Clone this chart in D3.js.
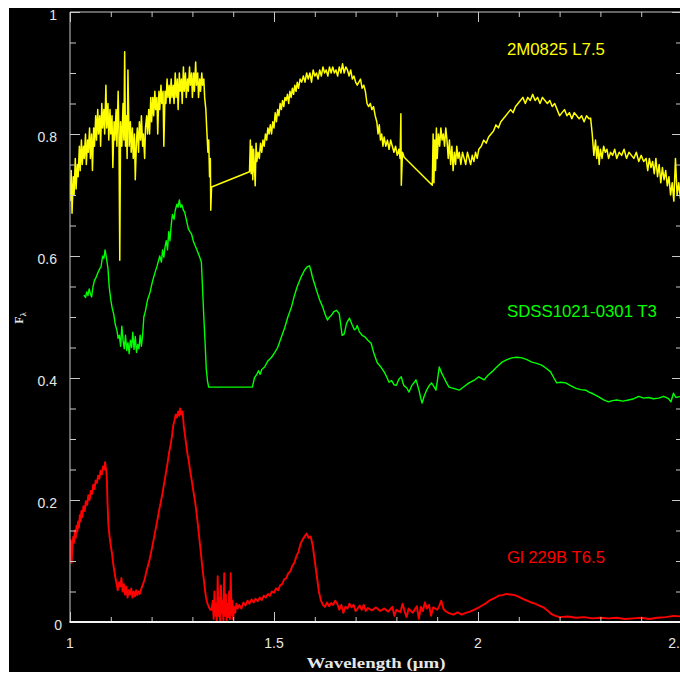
<!DOCTYPE html>
<html>
<head>
<meta charset="utf-8">
<script src="https://cdn.jsdelivr.net/npm/d3@7"></script>
<style>
  html, body { margin: 0; padding: 0; background: #fff; }
  svg { display: block; }
</style>
</head>
<body>
<svg id="chart" width="680" height="675"></svg>
<script>
// ---------------- DATA ----------------
const seriesNames = ["2M0825 L7.5", "SDSS1021-0301 T3", "Gl 229B T6.5"];
const xTickLabels = ["1", "1.5", "2", "2.5"];
const yTickLabels = ["0", "0.2", "0.4", "0.6", "0.8", "1"];
const xAxisTitle = "Wavelength (\u03bcm)";

// [wavelength (micron), F_lambda]
const spec2M0825 = [
[1.000,0.69],[1.003,0.74],[1.005,0.67],[1.008,0.73],[1.010,0.70],[1.013,0.76],[1.015,0.71],[1.018,0.75],
[1.020,0.73],[1.023,0.78],[1.025,0.74],[1.028,0.79],[1.030,0.75],[1.033,0.78],[1.035,0.76],[1.038,0.80],
[1.040,0.75],[1.043,0.79],[1.045,0.77],[1.048,0.81],[1.050,0.76],[1.053,0.80],[1.055,0.74],[1.058,0.81],
[1.060,0.78],[1.063,0.83],[1.065,0.79],[1.068,0.84],[1.070,0.80],[1.073,0.83],[1.075,0.78],[1.078,0.85],
[1.080,0.81],[1.083,0.84],[1.085,0.80],[1.088,0.88],[1.090,0.81],[1.093,0.85],[1.095,0.79],[1.098,0.84],
[1.100,0.80],[1.103,0.83],[1.105,0.745],[1.108,0.82],[1.110,0.79],[1.113,0.84],[1.115,0.78],[1.118,0.87],
[1.120,0.80],[1.122,0.593],[1.124,0.82],[1.127,0.78],[1.130,0.85],[1.132,0.79],[1.134,0.935],[1.136,0.78],
[1.138,0.83],[1.140,0.76],[1.142,0.905],[1.145,0.78],[1.148,0.82],[1.150,0.77],[1.153,0.81],[1.155,0.76],
[1.158,0.80],[1.160,0.725],[1.163,0.79],[1.165,0.81],[1.168,0.77],[1.170,0.82],[1.173,0.79],[1.175,0.83],
[1.178,0.78],[1.180,0.80],[1.183,0.76],[1.185,0.81],[1.188,0.83],[1.190,0.80],[1.193,0.84],[1.195,0.80],
[1.198,0.86],[1.200,0.82],[1.203,0.86],[1.205,0.83],[1.208,0.87],[1.210,0.84],[1.213,0.86],[1.215,0.80],
[1.218,0.87],[1.220,0.84],[1.223,0.88],[1.225,0.85],[1.228,0.87],[1.230,0.78],[1.233,0.87],[1.235,0.85],
[1.238,0.89],[1.240,0.86],[1.243,0.88],[1.245,0.85],[1.248,0.89],[1.250,0.86],[1.253,0.88],[1.255,0.85],
[1.258,0.90],[1.260,0.86],[1.263,0.89],[1.265,0.84],[1.268,0.90],[1.270,0.87],[1.273,0.89],[1.275,0.85],
[1.278,0.91],[1.280,0.87],[1.283,0.90],[1.285,0.86],[1.288,0.89],[1.290,0.87],[1.293,0.91],[1.295,0.88],
[1.298,0.90],[1.300,0.86],[1.303,0.90],[1.305,0.87],[1.308,0.918],[1.310,0.88],[1.313,0.90],[1.315,0.86],
[1.318,0.89],[1.320,0.87],[1.323,0.90],[1.325,0.88],[1.328,0.89],[1.330,0.86],[1.333,0.84],[1.335,0.81],
[1.338,0.77],[1.340,0.79],[1.342,0.73],[1.344,0.76],[1.345,0.675],[1.347,0.713],
[1.440,0.738],[1.442,0.79],[1.444,0.735],[1.446,0.78],[1.448,0.725],[1.450,0.775],[1.452,0.745],[1.454,0.715],
[1.456,0.785],[1.458,0.755],[1.461,0.77],[1.464,0.76],[1.467,0.785],[1.470,0.77],[1.473,0.79],[1.476,0.78],
[1.479,0.80],[1.482,0.79],[1.485,0.81],[1.488,0.80],[1.491,0.815],[1.494,0.80],[1.497,0.82],[1.500,0.81],
[1.503,0.835],[1.506,0.82],[1.509,0.84],[1.512,0.83],[1.515,0.85],[1.518,0.84],[1.521,0.855],[1.524,0.845],
[1.527,0.86],[1.530,0.855],[1.533,0.865],[1.536,0.85],[1.539,0.87],[1.542,0.86],[1.545,0.875],[1.548,0.865],
[1.551,0.88],[1.554,0.87],[1.557,0.885],[1.560,0.875],[1.564,0.89],[1.568,0.885],[1.572,0.895],[1.576,0.885],
[1.580,0.90],[1.584,0.89],[1.588,0.90],[1.592,0.885],[1.596,0.905],[1.600,0.895],[1.604,0.90],[1.608,0.89],
[1.612,0.905],[1.616,0.895],[1.620,0.91],[1.624,0.90],[1.628,0.905],[1.632,0.895],[1.636,0.91],[1.640,0.90],
[1.644,0.91],[1.648,0.90],[1.652,0.905],[1.656,0.895],[1.660,0.91],[1.664,0.90],[1.668,0.915],[1.672,0.90],
[1.676,0.91],[1.680,0.905],[1.684,0.895],[1.688,0.905],[1.692,0.89],[1.696,0.895],[1.700,0.885],[1.704,0.88],
[1.708,0.885],[1.712,0.89],[1.716,0.875],[1.720,0.88],[1.724,0.87],[1.728,0.85],[1.732,0.845],[1.736,0.85],
[1.740,0.84],[1.744,0.845],[1.748,0.83],[1.752,0.82],[1.755,0.80],[1.758,0.815],[1.761,0.79],[1.764,0.80],
[1.767,0.78],[1.770,0.795],[1.774,0.78],[1.778,0.79],[1.782,0.775],[1.786,0.79],[1.790,0.78],[1.794,0.77],
[1.798,0.78],[1.802,0.765],[1.806,0.775],[1.809,0.76],[1.811,0.833],[1.812,0.716],[1.815,0.77],[1.819,0.762],
[1.888,0.716],[1.890,0.80],[1.892,0.72],[1.894,0.79],[1.896,0.74],[1.898,0.81],[1.900,0.76],[1.903,0.80],
[1.906,0.78],[1.909,0.81],[1.912,0.79],[1.915,0.80],[1.918,0.78],[1.921,0.81],[1.924,0.79],[1.927,0.76],
[1.930,0.79],[1.933,0.75],[1.936,0.78],[1.939,0.74],[1.942,0.77],[1.945,0.75],[1.948,0.78],[1.951,0.76],
[1.954,0.77],[1.958,0.75],[1.962,0.77],[1.966,0.76],[1.970,0.75],[1.974,0.77],[1.978,0.76],[1.982,0.75],
[1.986,0.765],[1.990,0.755],[1.994,0.77],[1.998,0.76],[2.002,0.775],[2.008,0.78],[2.014,0.79],[2.020,0.785],
[2.026,0.795],[2.032,0.80],[2.038,0.805],[2.044,0.815],[2.050,0.81],[2.056,0.82],[2.062,0.825],[2.068,0.83],
[2.074,0.835],[2.080,0.84],[2.086,0.835],[2.092,0.845],[2.098,0.85],[2.104,0.855],[2.110,0.86],[2.116,0.85],
[2.122,0.86],[2.128,0.855],[2.134,0.865],[2.140,0.855],[2.146,0.86],[2.152,0.85],[2.158,0.86],[2.164,0.855],
[2.170,0.85],[2.176,0.855],[2.182,0.845],[2.188,0.85],[2.194,0.84],[2.200,0.83],[2.206,0.835],[2.212,0.84],
[2.218,0.83],[2.224,0.835],[2.230,0.825],[2.236,0.835],[2.242,0.83],[2.248,0.825],[2.254,0.83],[2.260,0.82],
[2.266,0.83],[2.272,0.825],[2.276,0.826],[2.280,0.80],[2.284,0.765],[2.288,0.79],[2.291,0.76],[2.294,0.78],
[2.297,0.75],[2.300,0.775],[2.304,0.76],[2.308,0.78],[2.312,0.77],[2.316,0.775],[2.320,0.76],[2.325,0.77],
[2.330,0.765],[2.335,0.775],[2.340,0.76],[2.346,0.77],[2.352,0.765],[2.358,0.775],[2.364,0.76],[2.370,0.77],
[2.376,0.765],[2.382,0.76],[2.388,0.77],[2.394,0.755],[2.400,0.765],[2.406,0.755],[2.412,0.76],[2.416,0.74],
[2.420,0.76],[2.424,0.745],[2.428,0.755],[2.432,0.735],[2.436,0.76],[2.440,0.73],[2.444,0.75],[2.448,0.72],
[2.452,0.745],[2.456,0.725],[2.460,0.74],[2.464,0.715],[2.468,0.73],[2.472,0.70],[2.476,0.72],[2.480,0.69],
[2.484,0.76],[2.488,0.70],[2.492,0.72],[2.496,0.695],[2.500,0.71]
];

const specSDSS1021 = [
[1.034,0.536],[1.038,0.532],[1.041,0.541],[1.044,0.535],[1.047,0.546],[1.050,0.538],[1.053,0.533],[1.056,0.548],
[1.060,0.560],[1.064,0.565],[1.068,0.572],[1.072,0.578],[1.076,0.582],[1.080,0.600],[1.083,0.596],[1.086,0.610],
[1.089,0.598],[1.093,0.580],[1.096,0.550],[1.100,0.528],[1.103,0.516],[1.107,0.505],[1.111,0.488],[1.115,0.478],
[1.118,0.465],[1.121,0.470],[1.124,0.452],[1.127,0.485],[1.130,0.462],[1.133,0.448],[1.136,0.470],[1.139,0.445],
[1.142,0.458],[1.145,0.440],[1.148,0.462],[1.151,0.450],[1.154,0.475],[1.157,0.447],[1.160,0.468],[1.163,0.442],
[1.166,0.455],[1.169,0.448],[1.172,0.470],[1.175,0.452],[1.178,0.470],[1.181,0.500],[1.185,0.510],[1.190,0.528],
[1.196,0.540],[1.202,0.558],[1.208,0.572],[1.214,0.585],[1.220,0.600],[1.224,0.590],[1.227,0.610],[1.230,0.598],
[1.233,0.615],[1.236,0.625],[1.239,0.610],[1.242,0.640],[1.245,0.625],[1.248,0.650],[1.251,0.668],[1.255,0.660],
[1.258,0.675],[1.262,0.685],[1.265,0.680],[1.268,0.692],[1.271,0.680],[1.274,0.684],[1.278,0.675],[1.281,0.672],
[1.285,0.660],[1.290,0.645],[1.294,0.640],[1.298,0.636],[1.302,0.625],[1.306,0.618],[1.310,0.612],[1.314,0.605],
[1.318,0.598],[1.322,0.590],[1.325,0.545],[1.328,0.500],[1.331,0.460],[1.334,0.415],[1.337,0.395],[1.340,0.385],
[1.447,0.385],[1.452,0.400],[1.457,0.405],[1.462,0.412],[1.466,0.406],[1.470,0.414],[1.477,0.418],[1.485,0.428],
[1.494,0.434],[1.502,0.442],[1.509,0.450],[1.517,0.465],[1.526,0.482],[1.534,0.500],[1.543,0.517],[1.550,0.535],
[1.557,0.550],[1.566,0.565],[1.575,0.577],[1.581,0.582],[1.587,0.584],[1.591,0.575],[1.594,0.566],[1.600,0.553],
[1.606,0.540],[1.612,0.528],[1.619,0.517],[1.625,0.505],[1.631,0.495],[1.636,0.500],[1.641,0.503],[1.647,0.509],
[1.653,0.511],[1.657,0.508],[1.660,0.505],[1.664,0.485],[1.667,0.470],[1.672,0.472],[1.678,0.490],[1.685,0.498],
[1.691,0.488],[1.697,0.479],[1.701,0.481],[1.704,0.486],[1.709,0.476],[1.716,0.470],[1.722,0.468],[1.730,0.462],
[1.738,0.457],[1.745,0.440],[1.753,0.425],[1.762,0.418],[1.770,0.410],[1.776,0.402],[1.782,0.393],[1.788,0.396],
[1.794,0.389],[1.800,0.388],[1.806,0.398],[1.812,0.402],[1.816,0.392],[1.819,0.387],[1.825,0.384],[1.831,0.377],
[1.838,0.388],[1.844,0.393],[1.848,0.397],[1.852,0.388],[1.856,0.378],[1.860,0.366],[1.863,0.359],[1.868,0.370],
[1.874,0.380],[1.880,0.387],[1.886,0.392],[1.892,0.386],[1.897,0.380],[1.901,0.398],[1.905,0.418],[1.911,0.408],
[1.917,0.400],[1.923,0.392],[1.929,0.385],[1.940,0.383],[1.954,0.380],[1.966,0.386],[1.978,0.392],[1.990,0.396],
[2.002,0.402],[2.015,0.397],[2.025,0.405],[2.034,0.410],[2.046,0.418],[2.059,0.426],[2.071,0.430],[2.083,0.433],
[2.095,0.434],[2.108,0.433],[2.120,0.430],[2.132,0.426],[2.144,0.424],[2.156,0.421],[2.167,0.416],[2.178,0.410],
[2.186,0.400],[2.193,0.392],[2.203,0.393],[2.215,0.392],[2.228,0.387],[2.240,0.383],[2.252,0.381],[2.264,0.380],
[2.272,0.377],[2.279,0.375],[2.288,0.372],[2.296,0.369],[2.308,0.364],[2.320,0.361],[2.330,0.363],[2.340,0.364],
[2.355,0.362],[2.369,0.364],[2.382,0.366],[2.394,0.370],[2.406,0.367],[2.418,0.368],[2.430,0.366],[2.443,0.367],
[2.455,0.370],[2.467,0.366],[2.473,0.361],[2.479,0.375],[2.485,0.368],[2.491,0.369],[2.500,0.370]
];

const specGl229B = [
[1.000,0.100],[1.002,0.134],[1.004,0.097],[1.006,0.125],[1.008,0.140],[1.010,0.130],[1.012,0.150],[1.014,0.138],
[1.016,0.158],[1.018,0.148],[1.020,0.165],[1.022,0.155],[1.024,0.175],[1.026,0.165],[1.028,0.182],[1.030,0.172],
[1.033,0.190],[1.036,0.182],[1.039,0.198],[1.042,0.192],[1.045,0.208],[1.048,0.200],[1.051,0.215],[1.054,0.210],
[1.057,0.225],[1.060,0.218],[1.063,0.232],[1.066,0.228],[1.069,0.240],[1.072,0.235],[1.075,0.248],[1.078,0.242],
[1.081,0.255],[1.084,0.250],[1.086,0.262],[1.088,0.252],[1.090,0.240],[1.092,0.195],[1.094,0.160],[1.097,0.140],
[1.100,0.125],[1.103,0.112],[1.106,0.095],[1.109,0.082],[1.112,0.070],[1.115,0.060],[1.117,0.052],[1.120,0.065],
[1.123,0.058],[1.126,0.072],[1.129,0.050],[1.132,0.062],[1.135,0.045],[1.138,0.058],[1.141,0.040],[1.144,0.052],
[1.147,0.045],[1.150,0.055],[1.153,0.040],[1.156,0.050],[1.159,0.042],[1.162,0.052],[1.165,0.044],[1.168,0.050],
[1.171,0.046],[1.175,0.055],[1.179,0.062],[1.183,0.070],[1.187,0.082],[1.191,0.092],[1.195,0.102],[1.199,0.115],
[1.203,0.128],[1.207,0.142],[1.211,0.156],[1.215,0.170],[1.219,0.185],[1.223,0.198],[1.227,0.212],[1.231,0.228],
[1.235,0.244],[1.239,0.260],[1.243,0.278],[1.247,0.292],[1.250,0.305],[1.253,0.322],[1.256,0.330],[1.259,0.340],
[1.262,0.335],[1.265,0.345],[1.268,0.338],[1.270,0.350],[1.273,0.340],[1.276,0.345],[1.279,0.320],[1.282,0.305],
[1.285,0.290],[1.288,0.275],[1.291,0.265],[1.294,0.250],[1.297,0.238],[1.300,0.225],[1.303,0.212],[1.306,0.200],
[1.309,0.185],[1.312,0.168],[1.315,0.150],[1.318,0.130],[1.321,0.112],[1.324,0.092],[1.327,0.075],[1.330,0.058],
[1.333,0.042],[1.336,0.032],[1.340,0.025],[1.344,0.020],
[1.347,0.020],[1.350,0.035],[1.352,0.005],[1.354,0.050],[1.356,0.010],[1.358,0.030],[1.360,0.000],[1.362,0.075],
[1.364,0.010],[1.366,0.040],[1.368,0.002],[1.370,0.060],[1.372,0.015],[1.374,0.035],[1.376,0.000],[1.378,0.080],
[1.380,0.010],[1.382,0.045],[1.384,0.003],[1.386,0.030],[1.388,0.008],[1.390,0.050],[1.392,0.005],[1.394,0.080],
[1.396,0.012],[1.398,0.035],[1.400,0.004],[1.402,0.025],[1.405,0.015],[1.408,0.030],[1.411,0.022],
[1.415,0.028],[1.420,0.022],[1.425,0.032],[1.430,0.027],[1.435,0.035],[1.440,0.030],[1.445,0.037],[1.450,0.032],
[1.455,0.038],[1.460,0.034],[1.465,0.040],[1.470,0.036],[1.475,0.043],[1.480,0.040],[1.485,0.046],[1.490,0.043],
[1.495,0.050],[1.500,0.048],[1.505,0.055],[1.510,0.052],[1.515,0.060],[1.520,0.062],[1.525,0.070],[1.530,0.072],
[1.535,0.080],[1.540,0.083],[1.545,0.092],[1.550,0.097],[1.555,0.108],[1.560,0.115],[1.565,0.128],[1.570,0.135],
[1.575,0.140],[1.580,0.145],[1.585,0.138],[1.590,0.140],[1.595,0.125],[1.600,0.100],[1.605,0.075],[1.610,0.050],
[1.615,0.035],[1.620,0.028],[1.625,0.025],[1.630,0.032],[1.635,0.026],[1.640,0.031],[1.645,0.028],[1.650,0.035],
[1.655,0.030],[1.660,0.020],[1.665,0.028],[1.670,0.015],[1.675,0.025],[1.680,0.022],[1.685,0.030],[1.690,0.024],
[1.695,0.028],[1.700,0.018],[1.705,0.022],[1.710,0.027],[1.715,0.020],[1.720,0.028],[1.725,0.018],[1.730,0.023],
[1.740,0.019],[1.750,0.024],[1.760,0.018],[1.770,0.022],[1.780,0.017],[1.790,0.025],[1.795,0.010],[1.800,0.020],
[1.810,0.016],[1.815,0.030],[1.820,0.018],[1.825,0.008],[1.830,0.022],[1.840,0.015],[1.850,0.026],[1.855,0.005],
[1.860,0.025],[1.865,0.018],[1.870,0.032],[1.875,0.022],[1.880,0.028],[1.885,0.010],[1.890,0.024],[1.900,0.020],
[1.905,0.026],[1.910,0.035],[1.915,0.022],[1.920,0.018],[1.930,0.014],[1.940,0.012],[1.950,0.016],[1.960,0.012],
[1.970,0.015],[1.980,0.017],[1.990,0.020],[2.000,0.023],[2.010,0.027],[2.020,0.031],[2.030,0.036],[2.040,0.039],
[2.050,0.043],[2.060,0.044],[2.070,0.046],[2.080,0.045],[2.090,0.044],[2.100,0.041],[2.110,0.038],[2.120,0.035],
[2.130,0.032],[2.140,0.030],[2.150,0.027],[2.160,0.024],[2.170,0.019],[2.180,0.013],[2.190,0.010],[2.200,0.008],
[2.220,0.009],[2.240,0.007],[2.260,0.008],[2.280,0.006],[2.300,0.007],[2.320,0.006],[2.340,0.007],[2.360,0.005],
[2.380,0.006],[2.400,0.007],[2.420,0.005],[2.440,0.007],[2.460,0.008],[2.480,0.010],[2.500,0.009]
];

// ---------------- DRAWING ----------------
const svg = d3.select("#chart");
const W = 680, H = 675;
svg.append("rect").attr("x", 0).attr("y", 0).attr("width", W).attr("height", H).attr("fill", "#fff");
svg.append("rect").attr("x", 9).attr("y", 8).attr("width", 671).attr("height", 664).attr("fill", "#000");

const x = d3.scaleLinear().domain([1, 2.5]).range([70, 682]);
const y = d3.scaleLinear().domain([0, 1]).range([622, 12]);

svg.append("clipPath").attr("id", "plotclip")
  .append("rect").attr("x", x(1)).attr("y", y(1)).attr("width", x(2.5) - x(1)).attr("height", y(0) - y(1));

const line = d3.line().x(d => x(d[0])).y(d => y(d[1]));
const plot = svg.append("g").attr("clip-path", "url(#plotclip)");

const series = [
  { data: spec2M0825, color: "#ffff00", width: 1.5 },
  { data: specSDSS1021, color: "#00ff00", width: 1.4 },
  { data: specGl229B, color: "#ff0000", width: 1.9 }
];
series.forEach(s => {
  plot.append("path").datum(s.data).attr("d", line)
    .attr("fill", "none").attr("stroke", s.color)
    .attr("stroke-width", s.width).attr("stroke-linejoin", "round");
});

// axes (ticks pointing inward)
const xMinor = d3.range(1.1, 2.5, 0.1).filter(v => Math.abs(v * 2 - Math.round(v * 2)) > 1e-6);
const xMajor = [1, 1.5, 2, 2.5];
const yMinor = d3.range(0.05, 1.0, 0.05).filter(v => Math.abs(v * 5 - Math.round(v * 5)) > 1e-6);
const yMajor = [0, 0.2, 0.4, 0.6, 0.8, 1];
const axisColor = "#c8c8c8";

function styleAxis(g, color) {
  g.select(".domain").remove();
  g.selectAll(".tick line").attr("stroke", color).attr("stroke-width", 1);
  g.selectAll(".tick text").remove();
}
// bottom
svg.append("g").attr("transform", `translate(0,${y(0)})`)
  .call(d3.axisBottom(x).tickValues(xMinor).tickSize(-5).tickFormat("")).call(g => styleAxis(g, axisColor));
svg.append("g").attr("transform", `translate(0,${y(0)})`)
  .call(d3.axisBottom(x).tickValues(xMajor).tickSize(-10).tickFormat("")).call(g => styleAxis(g, axisColor));
// top
svg.append("g").attr("transform", `translate(0,${y(1)})`)
  .call(d3.axisTop(x).tickValues(xMinor).tickSize(-5).tickFormat("")).call(g => styleAxis(g, axisColor));
svg.append("g").attr("transform", `translate(0,${y(1)})`)
  .call(d3.axisTop(x).tickValues(xMajor).tickSize(-10).tickFormat("")).call(g => styleAxis(g, axisColor));
// left
svg.append("g").attr("transform", `translate(${x(1)},0)`)
  .call(d3.axisLeft(y).tickValues(yMinor).tickSize(-6).tickFormat("")).call(g => styleAxis(g, axisColor));
svg.append("g").attr("transform", `translate(${x(1)},0)`)
  .call(d3.axisLeft(y).tickValues(yMajor).tickSize(-10).tickFormat("")).call(g => styleAxis(g, axisColor));
// right
svg.append("g").attr("transform", `translate(${x(2.5)},0)`)
  .call(d3.axisRight(y).tickValues(yMinor).tickSize(-6).tickFormat("")).call(g => styleAxis(g, axisColor));
svg.append("g").attr("transform", `translate(${x(2.5)},0)`)
  .call(d3.axisRight(y).tickValues(yMajor).tickSize(-10).tickFormat("")).call(g => styleAxis(g, axisColor));

// frame lines
svg.append("line").attr("x1", x(1)).attr("x2", x(2.5)).attr("y1", y(1)).attr("y2", y(1))
  .attr("stroke", axisColor).attr("stroke-width", 1);
svg.append("line").attr("x1", x(1)).attr("x2", x(1)).attr("y1", y(1)).attr("y2", y(0))
  .attr("stroke", axisColor).attr("stroke-width", 1);
svg.append("line").attr("x1", x(2.5)).attr("x2", x(2.5)).attr("y1", y(1)).attr("y2", y(0))
  .attr("stroke", axisColor).attr("stroke-width", 1);
svg.append("line").attr("x1", x(1) - 0.5).attr("x2", x(2.5)).attr("y1", y(0)).attr("y2", y(0))
  .attr("stroke", "#f4f4f4").attr("stroke-width", 2.2);

// tick labels
const labelFont = "'Liberation Sans', Arial, sans-serif";
svg.selectAll(".ylab").data(yTickLabels).enter().append("text")
  .attr("class", "ylab")
  .attr("x", d => +d === 0 ? 62 : 57)
  .attr("y", d => y(+d) + 3)
  .attr("text-anchor", "end")
  .attr("dominant-baseline", "central")
  .attr("font-family", labelFont).attr("font-size", 14)
  .attr("fill", "#e6e6e6")
  .text(d => d);
svg.selectAll(".xlab").data(xTickLabels).enter().append("text")
  .attr("class", "xlab")
  .attr("x", d => x(+d) - (+d === 2.5 ? 4 : 0))
  .attr("y", 648)
  .attr("text-anchor", "middle")
  .attr("font-family", labelFont).attr("font-size", 14)
  .attr("fill", "#e6e6e6")
  .text(d => d);

// axis titles
svg.append("text")
  .attr("x", 376).attr("y", 668)
  .attr("text-anchor", "middle")
  .attr("font-family", "'Liberation Serif', 'DejaVu Serif', serif")
  .attr("font-weight", "bold").attr("font-size", 15)
  .attr("textLength", 139).attr("lengthAdjust", "spacingAndGlyphs")
  .attr("fill", "#e6e6e6")
  .text(xAxisTitle);

const yTitle = svg.append("text")
  .attr("transform", "translate(23,318) rotate(-90)")
  .attr("text-anchor", "middle")
  .attr("font-family", "'Liberation Serif', 'DejaVu Serif', serif")
  .attr("font-weight", "bold").attr("font-size", 12)
  .attr("fill", "#e6e6e6");
yTitle.append("tspan").text("F");
yTitle.append("tspan").attr("dy", 3).attr("font-size", 8).text("\u03bb");

// series labels
const seriesLabelPos = [
  { name: seriesNames[0], color: "#ffff00", lx: 2.071, ly: 0.93, len: 98 },
  { name: seriesNames[1], color: "#00ff00", lx: 2.071, ly: 0.50, len: 150 },
  { name: seriesNames[2], color: "#ff0000", lx: 2.071, ly: 0.097, len: 98 }
];
seriesLabelPos.forEach(s => {
  svg.append("text")
    .attr("x", x(s.lx)).attr("y", y(s.ly))
    .attr("font-family", labelFont).attr("font-size", 17)
    .attr("textLength", s.len).attr("lengthAdjust", "spacingAndGlyphs")
    .attr("fill", s.color)
    .text(s.name);
});
</script>
</body>
</html>
